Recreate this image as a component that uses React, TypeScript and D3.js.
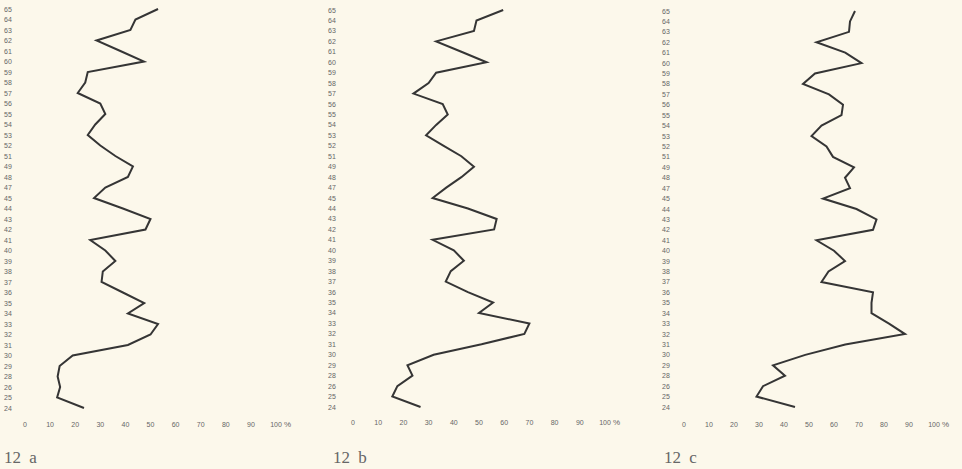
import React from "react";
import * as d3 from "d3";

const years = ["65","64","63","62","61","60","59","58","57","56","55","54","53","52","51","49","48","47","45","44","43","42","41","40","39","38","37","36","35","34","33","32","31","30","29","28","26","25","24"];

const seriesA = [53,44,42,28.5,38,47.4,25,24,21,30,32,28,25,30,36,43,41,32,27.5,39,50,48,26,32,36,31,30.5,39,47.5,41,53,50,41,19,13.8,13,14,12.8,23.5];
const seriesB = [59.6,49,48,33,43,53,33,30,24,35.6,37.6,33,29,36,43,48,43,37,31.6,45.6,57,56,31.6,40,44,38.8,36.8,45.6,55.6,50,70,68,51,32,21.6,23.6,17.6,15.6,26.8];
const seriesC = [68.4,66.4,66,53,64.5,71,52.4,47.6,58,63.6,63,55,51,57,59.6,68,64.4,66.4,55.6,69,77,75.6,53,60,64.4,57.8,55,75.6,75,75,82,88.4,64.5,48.5,35.6,40.4,31.6,29,44.4];

const xTicks = [0,10,20,30,40,50,60,70,80,90,100];
const captions = ["12 a", "12 b", "12 c"];

const panels = [
  { data: seriesA, labelX: 4, yTop: 9, yBottom: 408, x0: 25, x100: 276, tickY: 427, capX: 4 },
  { data: seriesB, labelX: 328, yTop: 10, yBottom: 407, x0: 353, x100: 605, tickY: 425, capX: 333 },
  { data: seriesC, labelX: 662, yTop: 11, yBottom: 407, x0: 684, x100: 934, tickY: 427, capX: 664 },
];

export default function App() {
  return (
    <svg width={962} height={469} style={{ position: "fixed", left: 0, top: 0, background: "#fcf8eb" }}>
      <rect x={0} y={0} width={962} height={469} fill="#fcf8eb" />
      {panels.map((p, i) => {
        const y = d3.scalePoint<string>().domain(years).range([p.yTop, p.yBottom]);
        const x = d3.scaleLinear().domain([0, 100]).range([p.x0, p.x100]);
        const line = d3.line<number>().x((d) => x(d)).y((_, k) => y(years[k]) as number);
        return (
          <g key={i}>
            {years.map((yr) => (
              <text key={yr} x={p.labelX} y={(y(yr) as number) + 2.5} fontSize={7} fill="#666" fontFamily="Liberation Sans, Arial, sans-serif">
                {yr}
              </text>
            ))}
            {xTicks.map((t) => (
              <text key={t} x={x(t)} y={p.tickY} fontSize={7} fill="#666" textAnchor="middle" fontFamily="Liberation Sans, Arial, sans-serif">
                {t}
              </text>
            ))}
            <text x={x(100) + 8} y={p.tickY} fontSize={8} fill="#666" fontFamily="Liberation Sans, Arial, sans-serif">%</text>
            <path d={line(p.data) || ""} fill="none" stroke="#353535" strokeWidth={2} strokeLinejoin="miter" />
            <text x={p.capX} y={463} fontSize={17} fill="#666" fontFamily="Liberation Serif, DejaVu Serif, serif" wordSpacing={4}>
              {captions[i]}
            </text>
          </g>
        );
      })}
    </svg>
  );
}
